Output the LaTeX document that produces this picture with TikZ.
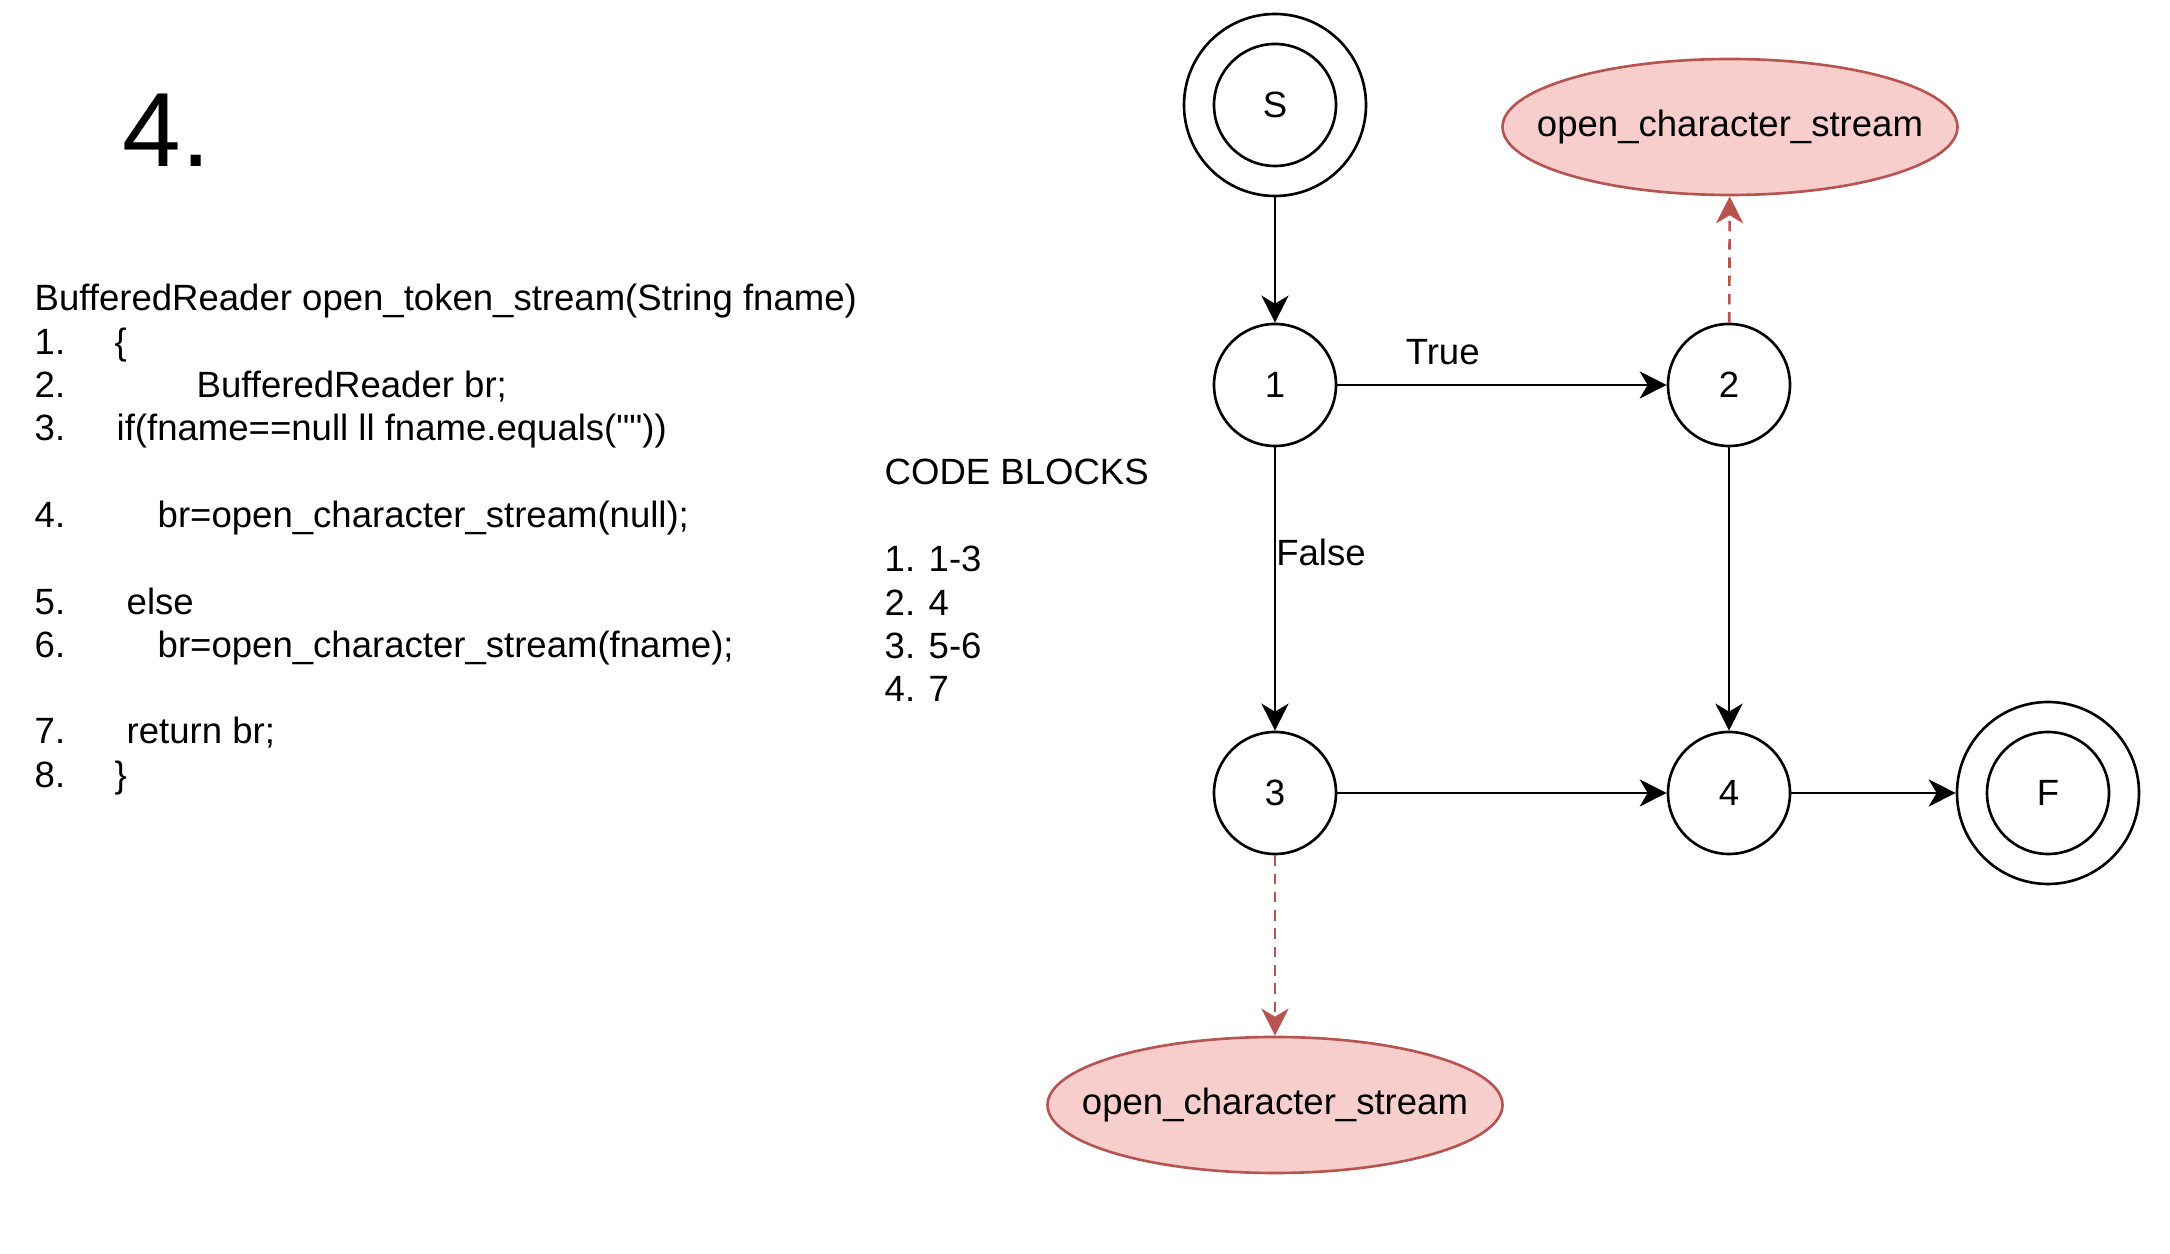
\documentclass[tikz,border=0pt]{standalone}
\usepackage{fontspec}
\setmainfont{Liberation Sans}
\newfontfamily\plainsans{Liberation Sans}
\usepackage{tikz}
\usetikzlibrary{arrows.meta, shapes.geometric}
\definecolor{callstroke}{HTML}{B85450}
\definecolor{callfill}{HTML}{F8CECC}
\tikzset{
  block/.style={draw, circle, minimum size=1.22cm, inner sep=0pt, line width=0.75pt},
  ring/.style={draw, circle, minimum size=1.82cm, inner sep=0pt, line width=0.75pt},
  callnode/.style={draw=callstroke, fill=callfill, ellipse, minimum width=4.55cm, minimum height=1.36cm, inner xsep=-0.6cm, inner ysep=0pt, line width=0.75pt},
  link/.style={-{Stealth[length=2.7mm, width=2.7mm, inset=0.8mm]}, line width=0.75pt},
  calllink/.style={link, color=callstroke, dash pattern=on 3pt off 2.2pt},
  codeline/.style={anchor=base west, inner sep=0pt}
}

\begin{document}
\begin{tikzpicture}[font=\fontsize{10.4}{12.5}\selectfont]
        \useasboundingbox (0,0) rectangle (21.70,-12.54);

        % Title
        \node[codeline, font=\fontsize{30}{36}\selectfont] (title) at (1.22,-1.67) {4.};

        % Source code
        \node[codeline] (head) at (0.34,-3.11) {BufferedReader open\_token\_stream(String fname)};
        \foreach \k/\n/\x/\t in {1/1/1.14/{\{}, 2/2/1.96/{BufferedReader br;}, 3/3/1.16/{if(fname==null ll fname.equals({\plainsans""}))},
                5/4/1.57/{br=open\_character\_stream(null);}, 7/5/1.26/{else}, 8/6/1.57/{br=open\_character\_stream(fname);},
                10/7/1.26/{return br;}, 11/8/1.14/{\}}}{
          \node[codeline] (num\n) at (0.34,-3.11-0.433*\k) {\n.};
          \node[codeline] (code\n) at (\x,-3.11-0.433*\k) {\t};
        }

        % Code blocks
        \node[codeline] (blocks) at (8.84,-4.85) {CODE BLOCKS};
        \foreach \k/\t in {1/{1. 1-3}, 2/{2. 4}, 3/{3. 5-6}, 4/{4. 7}}{
          \node[codeline] (blk\k) at (8.84,-5.72-0.433*\k+0.433) {\t};
        }

        % Flow graph
        \node[ring] (s) at (12.75,-1.05) {};
        \node[block] (sIn) at (s) {S};
        \node[block] (b1) at (12.75,-3.85) {1};
        \node[block] (b2) at (17.29,-3.85) {2};
        \node[block] (b3) at (12.75,-7.93) {3};
        \node[block] (b4) at (17.29,-7.93) {4};
        \node[ring] (f) at (20.48,-7.93) {};
        \node[block] (fIn) at (f) {F};

        % Calls
        \node[callnode] (call2) at (17.30,-1.27) {open\_character\_stream};
        \node[callnode] (call3) at (12.75,-11.05) {open\_character\_stream};

        % Edges
        \draw[link] (s) -- (b1);
        \draw[link] (b1) -- node[above=2pt, pos=0.32] (lblTrue) {True} (b2);
        \draw[link] (b1) -- node[right, pos=0.37, inner sep=0pt] (lblFalse) {False} (b3);
        \draw[link] (b2) -- (b4);
        \draw[link] (b3) -- (b4);
        \draw[link] (b4) -- (f);

        \draw[calllink] (b2) -- (call2);
        \draw[calllink] (b3) -- (call3);
    \end{tikzpicture}
\end{document}
